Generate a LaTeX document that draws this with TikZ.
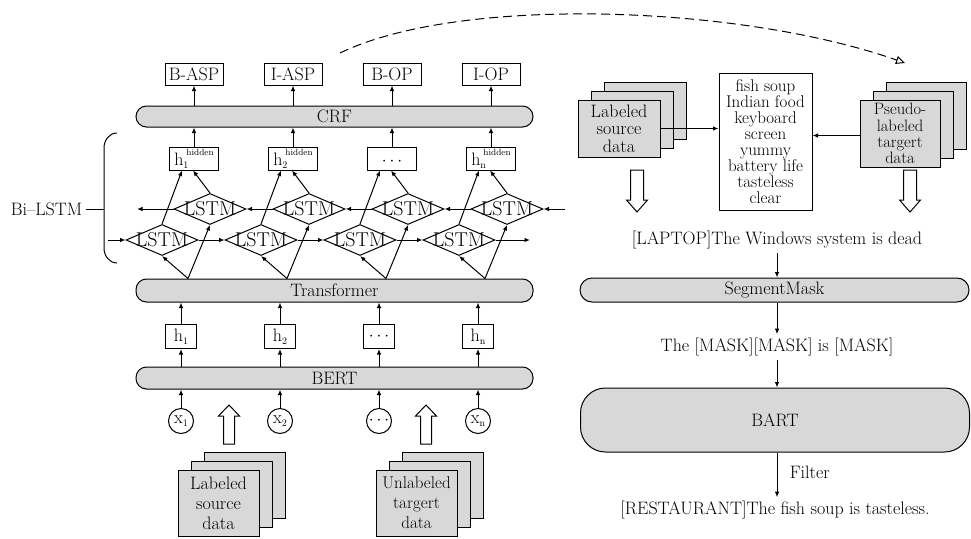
\documentclass[tikz,border=0pt]{standalone}
\usetikzlibrary{arrows.meta,shapes.geometric,calc}
\definecolor{barfill}{RGB}{216,216,216}

% small index below the base letter
\newcommand{\lowidx}[1]{\raisebox{-3pt}{\fontsize{10}{10}\selectfont #1}}
% hidden-state label: h with index and the word "hidden" raised
\newcommand{\hidlab}[1]{h\rlap{\raisebox{-3pt}{\fontsize{10}{10}\selectfont #1}}\kern3pt\raisebox{10pt}[0pt][0pt]{\fontsize{9}{9}\selectfont hidden}}
% stack of three sheets: [node options]{name}{cx}{cy}{w}{h}{text}
\newcommand{\datastack}[7][]{%
  \draw[fill=barfill] ({#3-#5/2+26},{#4-#6/2-18}) rectangle ({#3+#5/2+26},{#4+#6/2-18});
  \draw[fill=barfill] ({#3-#5/2+13},{#4-#6/2-9}) rectangle ({#3+#5/2+13},{#4+#6/2-9});
  \node[stackbox,minimum width=#5pt,minimum height=#6pt,#1] (#2) at (#3,#4) {#7};
}

\begin{document}
\begin{tikzpicture}[x=1pt,y=-1pt,line width=1pt,
  font=\fontsize{18}{18}\selectfont,
  arw/.style={-{Latex[length=5.5pt,width=4.5pt]}},
  outbox/.style={draw,minimum width=58pt,minimum height=22pt,inner sep=0pt},
  bar/.style={draw,fill=barfill,rounded corners=10.5pt,inner sep=0pt,minimum width=397pt,minimum height=22pt},
  hidbox/.style={draw,minimum width=49pt,minimum height=23pt,inner sep=0pt,text height=15pt,text depth=2pt},
  hbox/.style={draw,minimum width=31pt,minimum height=24pt,inner sep=0pt},
  xcirc/.style={draw,circle,minimum size=25pt,inner sep=0pt},
  lstm/.style={draw,diamond,minimum width=72pt,minimum height=31pt,inner sep=0pt,
    label={[font=\fontsize{20}{20}\selectfont,inner sep=0pt]center:LSTM}},
  stackbox/.style={draw,fill=barfill,inner sep=0pt,align=center},
  blockarrow/.style={draw,fill=white,line width=1pt},
  dashedarrow/.style={dash pattern=on 9pt off 5pt,-{Triangle[open,length=9pt,width=8pt]}}
]
\useasboundingbox (0,0) rectangle (971,538);

% ---------------- left: tagging model ----------------
\node[outbox] (o1) at (194,74) {B-ASP};
\node[outbox] (o2) at (293,74) {I-ASP};
\node[outbox] (o3) at (392,74) {B-OP};
\node[outbox] (o4) at (491,74) {I-OP};

\node[bar,minimum height=21pt] (crf) at (334.5,116.5) {CRF};

\node[hidbox] (hh1) at (194,158.5) {\hidlab{1}};
\node[hidbox] (hh2) at (293,158.5) {\hidlab{2}};
\node[hidbox] (hh3) at (392,158.5) {$\cdots$};
\node[hidbox] (hh4) at (491,158.5) {\hidlab{n}};

\foreach \i in {1,2,3,4}{
  \draw[arw] (crf.north -| o\i) -- (o\i.south);
  \draw[arw] (hh\i.north) -- (crf.south -| hh\i);
}

% Bi-LSTM rows
\foreach \i in {1,2,3,4}{
  \pgfmathsetmacro{\xl}{162+99*(\i-1)}
  \pgfmathsetmacro{\xu}{210+99*(\i-1)}
  \node[lstm] (l\i) at (\xl,240) {};
  \node[lstm] (u\i) at (\xu,209) {};
}

\node[bar,minimum height=23pt] (tf) at (334.5,290.5) {Transformer};

\node[hbox] (h1) at (181,336.5) {h\lowidx{1}};
\node[hbox] (h2) at (280,336.5) {h\lowidx{2}};
\node[hbox] (h3) at (379,336.5) {$\cdots$};
\node[hbox] (h4) at (478,336.5) {h\lowidx{n}};

\node[bar,minimum height=22pt] (bert) at (334.5,378) {BERT};

\node[xcirc] (x1) at (181,421) {x\lowidx{1}};
\node[xcirc] (x2) at (280,421) {x\lowidx{2}};
\node[xcirc] (x3) at (379,421) {$\cdots$};
\node[xcirc] (x4) at (478,421) {x\lowidx{n}};

\foreach \i in {1,2,3,4}{
  \path (tf.north -| h\i) ++(7,0) coordinate (t\i);
  \draw[arw] (t\i) -- (l\i.south);
  \draw[arw] (t\i) -- (u\i.south);
  \draw[arw] (l\i.north) -- ([xshift=-12pt]hh\i.south);
  \draw[arw] (u\i.north) -- ([xshift=-1pt]hh\i.south);
  \draw[arw] (h\i.north) -- (tf.south -| h\i);
  \draw[arw] (bert.north -| h\i) -- (h\i.south);
  \draw[arw] (x\i.north) -- (bert.south -| x\i);
}

% forward row (left to right)
\coordinate (lin) at (108,240);
\coordinate (lout) at (530,240);
\draw[arw] (lin) -- (l1.west);
\draw[arw] (l1.east) -- (l2.west);
\draw[arw] (l2.east) -- (l3.west);
\draw[arw] (l3.east) -- (l4.west);
\draw[arw] (l4.east) -- (lout);
% backward row (right to left)
\coordinate (uin) at (565,209);
\coordinate (uout) at (137,209);
\draw[arw] (uin) -- (u4.east);
\draw[arw] (u4.west) -- (u3.east);
\draw[arw] (u3.west) -- (u2.east);
\draw[arw] (u2.west) -- (u1.east);
\draw[arw] (u1.west) -- (uout);

% Bi-LSTM bracket
\node (bil) at (46.5,209) {Bi--LSTM};
\coordinate (brmid) at (104,209);
\draw (117,133) to[out=180,in=90] (104,148) -- (104,248) to[out=-90,in=180] (117,263);
\draw (bil.east) -- (brmid);

% input data
\datastack[font=\fontsize{18}{20}\selectfont]{lsrc}{218.5}{503}{81}{66}{Labeled\\source\\data}
\datastack[font=\fontsize{17}{20}\selectfont]{utgt}{416.5}{503}{81}{66}{Unlabeled\\targert\\data}

\coordinate (ba1) at (229,444);
\coordinate (ba2) at (426,444);
\foreach \c in {ba1,ba2}{
  \draw[blockarrow] (\c) ++(-5.5,0) -- ++(0,-28) -- ++(-5,0) -- ++(10.5,-11)
    -- ++(10.5,11) -- ++(-5,0) -- ++(0,28) -- cycle;
}

% ---------------- right: data augmentation ----------------
\datastack[font=\fontsize{18}{17.5}\selectfont]{rsrc}{619}{128.5}{82}{57}{Labeled\\source\\data}
\datastack[font=\fontsize{16.5}{16.3}\selectfont]{pseudo}{900}{133.5}{80}{67}{Pseudo-\\labeled\\targert\\data}

\node[draw,minimum width=93pt,minimum height=137pt,inner sep=0pt,align=center,
      font=\fontsize{17}{16}\selectfont] (words) at (765.5,141.5)
  {fish soup\\Indian food\\keyboard\\screen\\yummy\\battery life\\tasteless\\clear};

\draw[arw] (rsrc.east) -- (rsrc.east -| words.west);
\draw[arw] ([yshift=-2pt]pseudo.west) -- ([yshift=-2pt]pseudo.west -| words.east);

\coordinate (bd1) at (637,170);
\coordinate (bd2) at (910,170);
\foreach \c in {bd1,bd2}{
  \draw[blockarrow] (\c) ++(-6.5,0) -- ++(0,30) -- ++(-4,0) -- ++(10.5,12)
    -- ++(10.5,-12) -- ++(-4,0) -- ++(0,-30) -- cycle;
}

\node (lap) at (777,240) {[LAPTOP]The Windows system is dead};
\node[bar,minimum width=389pt,minimum height=24pt,rounded corners=12pt] (seg) at (774.5,290) {SegmentMask};
\node (msk) at (777,347) {The [MASK][MASK] is [MASK]};
\node[bar,minimum width=389pt,minimum height=64pt,rounded corners=25pt] (bart) at (775,420) {BART};
\node (rest) at (775,510) {[RESTAURANT]The fish soup is tasteless.};
\node[anchor=west] (filt) at (786,472) {Filter};

\draw[arw] (lap.south) -- (lap.south |- seg.north);
\draw[arw] (seg.south -| msk) -- (msk.north);
\draw[arw] (msk.south) -- (msk.south |- bart.north);
\draw[arw] (bart.south -| msk) -- (rest.north -| msk);

% pseudo labels fed back
\coordinate (dstart) at (340,53);
\coordinate (dend) at (905,63);
\draw[dashedarrow] (dstart) .. controls (460,-5) and (740,5) .. (dend);
\end{tikzpicture}
\end{document}
